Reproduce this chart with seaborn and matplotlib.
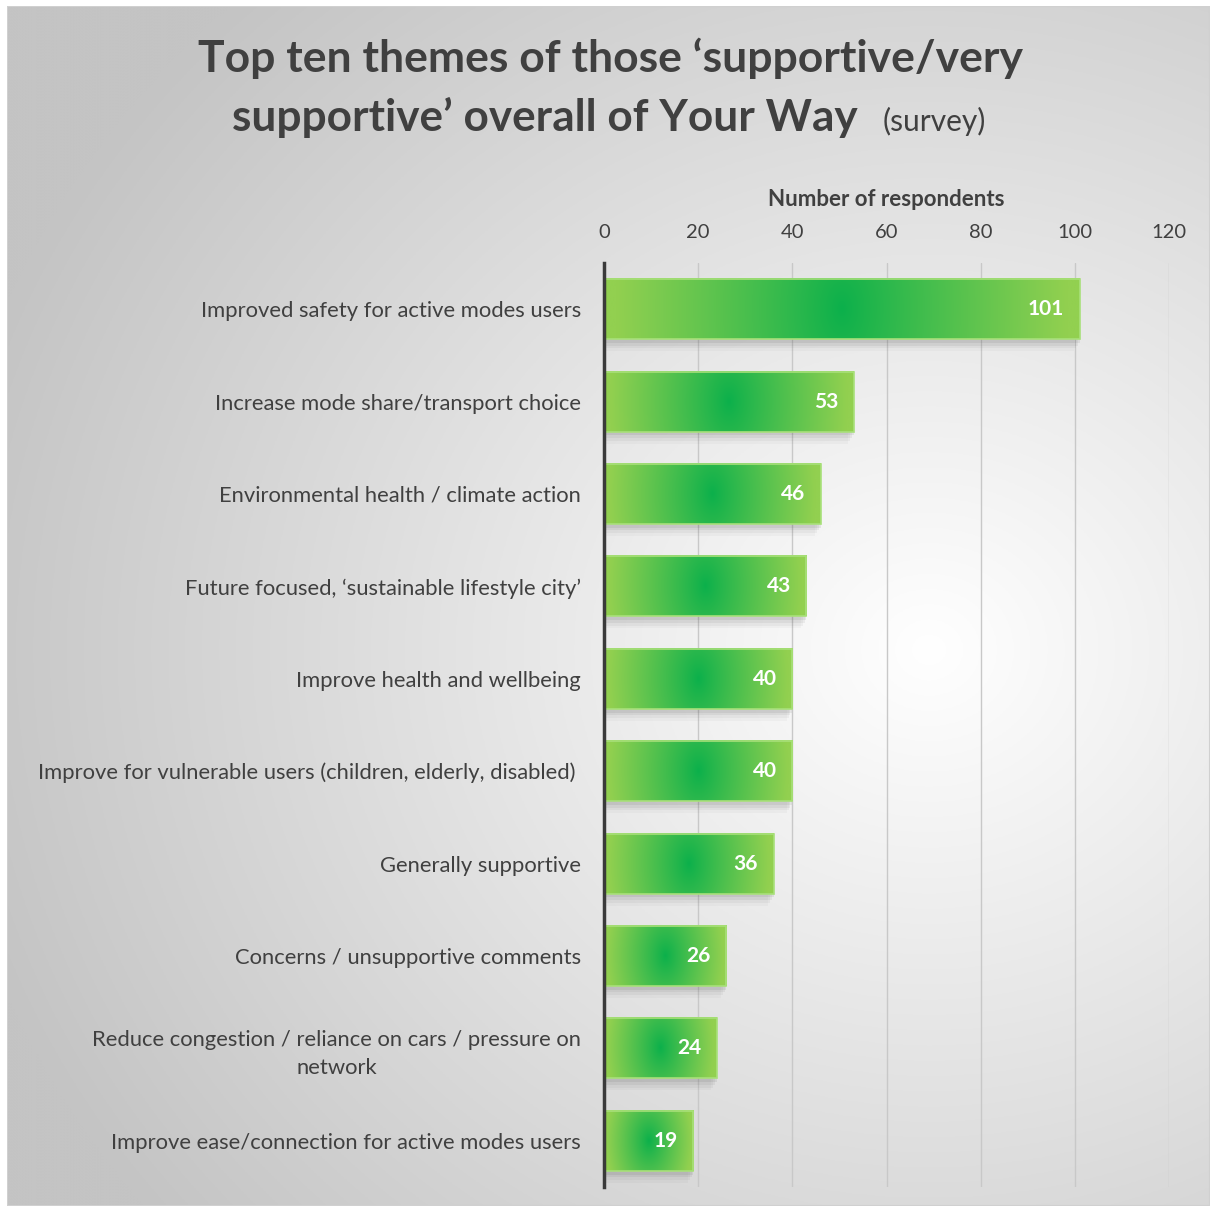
import numpy as np
import matplotlib
matplotlib.use("Agg")
import matplotlib.pyplot as plt
import matplotlib.patches as mpatches
from matplotlib.colors import to_rgb
import seaborn as sns
import pandas as pd

categories = [
    "Improved safety for active modes users",
    "Increase mode share/transport choice",
    "Environmental health / climate action",
    "Future focused, \u2018sustainable lifestyle city\u2019",
    "Improve health and wellbeing",
    "Improve for vulnerable users (children, elderly, disabled) ",
    "Generally supportive",
    "Concerns / unsupportive comments",
    "Reduce congestion / reliance on cars / pressure on\nnetwork",
    "Improve ease/connection for active modes users",
]
values = [101, 53, 46, 43, 40, 40, 36, 26, 24, 19]
x_ticks = [0, 20, 40, 60, 80, 100, 120]

sns.set_theme(style="white")
FONT = ["Lato", "DejaVu Sans"]
plt.rcParams["font.family"] = FONT
TXT = "#404040"

W, H = 1212, 1209
fig = plt.figure(figsize=(W / 100, H / 100), dpi=100)
fig.patch.set_facecolor("white")

# background frame with radial gradient
bx0, by0, bx1, by1 = 7, 6, 1210, 1206
bg = fig.add_axes([bx0 / W, 1 - by1 / H, (bx1 - bx0) / W, (by1 - by0) / H])
bg.set_axis_off()
nx, ny = 400, 400
xx, yy = np.meshgrid(np.linspace(bx0, bx1, nx), np.linspace(by0, by1, ny))
cx, cy = 930, 650
d = np.sqrt(((xx - cx) / 1000) ** 2 + ((yy - cy) / 900) ** 2)
d = np.clip(d, 0, 1)
c_in = np.array([1.0, 1.0, 1.0])
c_out = np.array(to_rgb("#c4c4c4"))
img = c_in[None, None, :] * (1 - d[..., None]) + c_out[None, None, :] * d[..., None]
bg.imshow(img, extent=[0, 1, 0, 1], aspect="auto", origin="upper")
bg.set_xlim(0, 1)
bg.set_ylim(0, 1)
bg.add_patch(mpatches.Rectangle((0, 0), 1, 1, fill=False, edgecolor="#d0d0d0", lw=1.5,
                                transform=bg.transAxes))

# main axes
ax0, ax1 = 604, 1169
ay0, ay1 = 263, 1187
ax = fig.add_axes([ax0 / W, 1 - ay1 / H, (ax1 - ax0) / W, (ay1 - ay0) / H])
ax.patch.set_alpha(0)

df = pd.DataFrame({"theme": categories, "n": values})
sns.barplot(data=df, x="n", y="theme", orient="h", ax=ax, width=0.65,
            color="#92d050", edgecolor="#a8e07a", linewidth=1.2, zorder=3)

ax.set_xlim(0, 120)
ax.set_ylim(len(categories) - 0.5, -0.5)
ax.set_xticks(x_ticks)
ax.xaxis.tick_top()
ax.xaxis.set_label_position("top")
ax.tick_params(axis="x", length=0, pad=16, labelsize=14.5, labelcolor=TXT)
ax.tick_params(axis="y", length=0, pad=16.5, labelsize=15.8, labelcolor=TXT)
ax.set_xlabel("Number of respondents", fontsize=16, fontweight="bold", color=TXT, labelpad=13)
ax.set_ylabel("")
for lab in ax.get_yticklabels():
    lab.set_multialignment("center")
    lab.set_linespacing(1.45)
ax.grid(axis="x", color="#c8c8c8", lw=1, zorder=0)
ax.grid(axis="y", visible=False)
for s in ["top", "right", "bottom"]:
    ax.spines[s].set_visible(False)
ax.spines["left"].set_color("#3a3a3a")
ax.spines["left"].set_linewidth(2.5)
ax.spines["left"].set_zorder(6)

c_center = np.array(to_rgb("#0bb04b"))
c_edge = np.array(to_rgb("#92d050"))
for p, v in zip(ax.patches, values):
    x0, y0 = p.get_x(), p.get_y()
    w, h = p.get_width(), p.get_height()
    # soft shadow
    for k, a in enumerate([0.10, 0.08, 0.06, 0.04]):
        off = 0.04 + 0.03 * k
        sh = mpatches.Rectangle((x0 + 0.3, y0 + off), w - 0.3 - 0.4 * k, h, facecolor="#555555",
                                edgecolor="none", alpha=a, zorder=1.5)
        ax.add_patch(sh)
    gx, gy = np.meshgrid(np.linspace(-1, 1, 300), np.linspace(-1, 1, 60))
    pw = w * 4.71  # pixel width
    ph = h * 92.4
    dd = np.sqrt((gx * pw / 2) ** 2 + (gy * ph / 2 * 0.6) ** 2) / max(pw / 2, 40)
    dd = np.clip(dd / 0.95, 0, 1) ** 0.9
    gimg = c_center[None, None, :] * (1 - dd[..., None]) + c_edge[None, None, :] * dd[..., None]
    ax.imshow(gimg, extent=[x0, x0 + w, y0 + h, y0], aspect="auto", zorder=2.5,
              interpolation="bilinear")
    p.set_facecolor("none")
    ax.text(x0 + w - 3.3, y0 + h / 2, str(v), ha="right", va="center", color="white",
            fontsize=15, fontweight="bold", zorder=5)

ax.set_xlim(0, 120)
ax.set_ylim(len(categories) - 0.5, -0.5)

# title
fig.text(611 / W, 1 - 58 / H, "Top ten themes of those \u2018supportive/very", ha="center", va="center",
         fontsize=32, fontweight="bold", color=TXT)
fig.text(858 / W, 1 - 117 / H, "supportive\u2019 overall of Your Way", ha="right", va="center",
         fontsize=31.8, fontweight="bold", color=TXT)
fig.text(883 / W, 1 - 121 / H, "(survey)", ha="left", va="center",
         fontsize=21.5, color=TXT)

fig.savefig("out.png", dpi=100, facecolor=fig.get_facecolor())
